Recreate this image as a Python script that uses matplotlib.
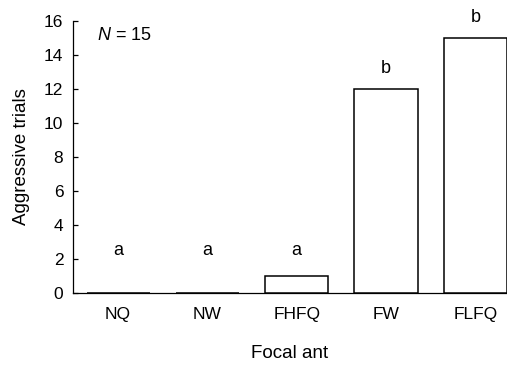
import matplotlib
matplotlib.use("Agg")
import matplotlib.pyplot as plt

plt.rcParams['font.family'] = ['Liberation Sans', 'DejaVu Sans']
plt.rcParams['mathtext.fontset'] = 'custom'
plt.rcParams['mathtext.it'] = 'Liberation Sans:italic'
plt.rcParams['mathtext.rm'] = 'Liberation Sans'

categories = ["NQ", "NW", "FHFQ", "FW", "FLFQ"]
trials = [0, 0, 1, 12, 15]
letters = ["a", "a", "a", "b", "b"]
letter_heights = [2.5, 2.5, 2.5, 13.2, 16.2]
y_ticks = [0, 2, 4, 6, 8, 10, 12, 14, 16]

fig = plt.figure(figsize=(5.07, 3.65), dpi=100)
ax = fig.add_axes([73 / 507, 72 / 365, 434 / 507, 272 / 365])

x = list(range(len(categories)))
ax.bar(x, trials, width=0.706, color="white", edgecolor="black",
       linewidth=1.1, zorder=3)

for xi, lab, h in zip(x, letters, letter_heights):
    ax.text(xi, h, lab, ha="center", va="center", fontsize=13, clip_on=False)

ax.text(0.055, 0.945, r"$N$ = 15", transform=ax.transAxes,
        ha="left", va="center", fontsize=13)

ax.set_xlim(-0.505, 4.355)
ax.set_ylim(0, 16)
ax.set_yticks(y_ticks)
ax.set_xticks(x)
ax.set_xticklabels(categories)

for side in ("top", "right"):
    ax.spines[side].set_visible(False)
for side in ("left", "bottom"):
    ax.spines[side].set_linewidth(0.9)

ax.tick_params(axis="y", direction="in", length=3.5, width=0.9, pad=7,
               labelsize=12.5)
ax.tick_params(axis="x", length=0, pad=18.5, labelsize=12.5)
for lbl in ax.get_xticklabels():
    lbl.set_verticalalignment("baseline")

ax.set_xlabel("Focal ant", fontsize=13.5, labelpad=17)
ax.set_ylabel("Aggressive trials", fontsize=13.5, labelpad=10)

fig.savefig("out.png", dpi=100)
